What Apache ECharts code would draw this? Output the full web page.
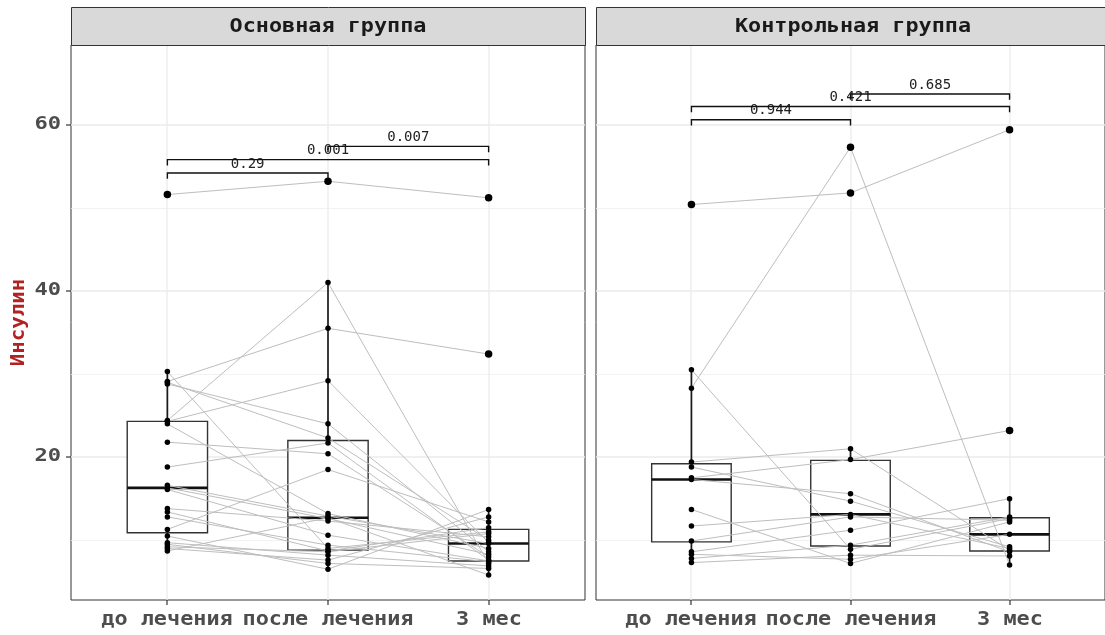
<!DOCTYPE html>
<html>
<head>
<meta charset="utf-8">
<script src="https://cdn.jsdelivr.net/npm/echarts@6/dist/echarts.min.js"></script>
<style>
  html, body { margin: 0; padding: 0; background: #ffffff; }
  #chart { width: 1105px; height: 635px; }
</style>
</head>
<body>
<div id="chart"></div>
<script>
// ---- data ----
const categories = ['до лечения', 'после лечения', '3 мес'];
const panelTitles = ['Основная группа', 'Контрольная группа'];
const yTitle = 'Инсулин';
const yTicks = [20, 40, 60];
const yMinorGrid = [10, 30, 50];
const yRange = [2.8, 69.6];

// main group, one entry per patient at each time point
const mainBefore = [51.6, 29.1, 24.4, 24.3, 30.3, 28.8, 29.0, 21.8, 24.0, 18.8, 11.3, 16.6, 16.3, 16.1, 13.8, 13.4, 12.8, 10.5, 9.0, 9.7, 9.5, 9.2, 8.7];
const mainAfter  = [53.2, 35.5, 41.0, 29.2, 9.0, 24.0, 22.3, 20.4, 13.2, 21.7, 18.5, 12.9, 12.6, 10.6, 12.3, 8.7, 9.4, 6.5, 7.6, 8.2, 7.2, 8.6, 12.7];
const main3m     = [51.2, 32.4, 7.2, 9.7, 11.0, 8.6, 10.0, 8.0, 9.0, 7.6, 12.2, 9.6, 8.3, 7.5, 10.4, 11.5, 7.4, 13.7, 12.8, 6.9, 6.6, 10.8, 5.8];

// control group, one entry per patient at each time point
const ctrlBefore = [50.4, 30.5, 28.3, 19.4, 17.5, 18.8, 17.3, 13.7, 11.7, 9.9, 8.6, 8.3, 7.8, 7.3];
const ctrlAfter  = [51.8, 8.9, 57.3, 21.0, 19.7, 14.7, 15.6, 7.2, 13.1, 12.8, 11.2, 7.7, 9.4, 8.2];
const ctrl3m     = [59.4, 12.6, 7.0, 8.8, 23.2, 9.2, 8.6, 12.2, 9.0, 12.4, 15.0, 10.7, 12.8, 8.1];

// box statistics per time point: [lower whisker, Q1, median, Q3, upper whisker]
const mainBox = [[8.7, 10.9, 16.3, 24.3, 30.3], [6.5, 8.8, 12.7, 22.0, 41.0], [5.8, 7.5, 9.6, 11.3, 13.7]];
const ctrlBox = [[7.3, 9.8, 17.3, 19.2, 30.5], [7.2, 9.3, 13.1, 19.6, 21.0], [7.0, 8.7, 10.7, 12.7, 15.0]];

// pairwise comparisons: bracket height and p-value
const sigPairs = [[0, 1], [0, 2], [1, 2]];
const mainSigY = [54.2, 55.8, 57.4];
const mainSigP = ['0.29', '0.001', '0.007'];
const ctrlSigY = [60.6, 62.2, 63.7];
const ctrlSigP = ['0.944', '0.421', '0.685'];
const sigTip = 0.7;

// ---- layout & styles ----
const panels = [
  { title: panelTitles[0], values: [mainBefore, mainAfter, main3m], box: mainBox, sigY: mainSigY, sigP: mainSigP },
  { title: panelTitles[1], values: [ctrlBefore, ctrlAfter, ctrl3m], box: ctrlBox, sigY: ctrlSigY, sigP: ctrlSigP }
];
const panelLeft = [71, 596];
const panelTop = 45, panelW = 514, panelH = 555;
const stripTop = 7, stripH = 38;
const MONO = '"DejaVu Sans Mono", monospace';
const AXIS_TEXT = '#4D4D4D';
const DARK = '#333333';

function txt(style) {
  // zrender text alignment names plus the legacy aliases
  style.align = style.textAlign;
  style.verticalAlign = style.textVerticalAlign;
  return style;
}

const grids = [], xAxes = [], yAxes = [], series = [], graphics = [];

panels.forEach((p, gi) => {
  grids.push({ left: panelLeft[gi], top: panelTop, width: panelW, height: panelH,
    show: true, borderColor: DARK, borderWidth: 1, backgroundColor: '#ffffff' });
  xAxes.push({ type: 'value', gridIndex: gi, min: -0.6, max: 2.6,
    axisLine: { show: false }, axisTick: { show: false }, axisLabel: { show: false }, splitLine: { show: false } });
  yAxes.push({ type: 'value', gridIndex: gi, min: yRange[0], max: yRange[1],
    axisLine: { show: false }, axisTick: { show: false }, axisLabel: { show: false }, splitLine: { show: false } });

  // grid lines, axis ticks and category labels
  series.push({
    type: 'custom', xAxisIndex: gi, yAxisIndex: gi, z: 1, silent: true, clip: false,
    data: [0],
    renderItem: function (params, api) {
      const cs = params.coordSys;
      const left = cs.x, right = cs.x + cs.width, top = cs.y, bottom = cs.y + cs.height;
      const ch = [];
      yMinorGrid.forEach(v => {
        const y = Math.round(api.coord([0, v])[1]) + 0.5;
        ch.push({ type: 'line', shape: { x1: left, y1: y, x2: right, y2: y }, style: { stroke: '#EFEFEF', lineWidth: 0.8 } });
      });
      yTicks.forEach(v => {
        const y = Math.round(api.coord([0, v])[1]);
        ch.push({ type: 'line', shape: { x1: left, y1: y, x2: right, y2: y }, style: { stroke: '#EBEBEB', lineWidth: 1.3 } });
        if (gi === 0) {
          ch.push({ type: 'line', shape: { x1: left - 5, y1: y, x2: left, y2: y }, style: { stroke: DARK, lineWidth: 1.2 } });
          ch.push({ type: 'text', x: left - 10, y: y, scaleX: 1.3,
            style: txt({ text: String(v), fill: AXIS_TEXT, font: 'bold 17px ' + MONO, textAlign: 'right', textVerticalAlign: 'middle' }) });
        }
      });
      categories.forEach((c, i) => {
        const x = Math.round(api.coord([i, 0])[0]);
        ch.push({ type: 'line', shape: { x1: x, y1: top, x2: x, y2: bottom }, style: { stroke: '#EBEBEB', lineWidth: 1.3 } });
        ch.push({ type: 'line', shape: { x1: x, y1: bottom, x2: x, y2: bottom + 5 }, style: { stroke: DARK, lineWidth: 1.2 } });
        ch.push({ type: 'text', x: x, y: bottom + 20, scaleX: 1.15,
          style: txt({ text: c, fill: AXIS_TEXT, font: 'bold 19px ' + MONO, textAlign: 'center', textVerticalAlign: 'middle' }) });
      });
      return { type: 'group', children: ch };
    }
  });

  // boxplots
  series.push({
    type: 'custom', xAxisIndex: gi, yAxisIndex: gi, z: 2, silent: true,
    data: p.box.map((b, i) => [i].concat(b)),
    renderItem: function (params, api) {
      const i = api.value(0);
      const lw = api.value(1), q1 = api.value(2), med = api.value(3), q3 = api.value(4), uw = api.value(5);
      const xl = api.coord([i - 0.25, q3])[0], xr = api.coord([i + 0.25, q3])[0];
      const xc = api.coord([i, q3])[0];
      const yq3 = api.coord([i, q3])[1], yq1 = api.coord([i, q1])[1];
      const ym = api.coord([i, med])[1], yu = api.coord([i, uw])[1], yl = api.coord([i, lw])[1];
      return { type: 'group', children: [
        { type: 'line', shape: { x1: xc, y1: yq3, x2: xc, y2: yu }, style: { stroke: '#1A1A1A', lineWidth: 1.7 } },
        { type: 'line', shape: { x1: xc, y1: yq1, x2: xc, y2: yl }, style: { stroke: '#1A1A1A', lineWidth: 1.7 } },
        { type: 'rect', shape: { x: xl, y: yq3, width: xr - xl, height: yq1 - yq3 },
          style: { fill: '#ffffff', stroke: DARK, lineWidth: 1.4 } },
        { type: 'line', shape: { x1: xl, y1: ym, x2: xr, y2: ym }, style: { stroke: '#111111', lineWidth: 2.6 } }
      ] };
    }
  });

  // paired lines, one per patient
  const n = p.values[0].length;
  for (let k = 0; k < n; k++) {
    series.push({
      type: 'line', xAxisIndex: gi, yAxisIndex: gi, z: 3, silent: true,
      showSymbol: false, symbol: 'none',
      lineStyle: { color: '#BEBEBE', width: 1, opacity: 1 },
      data: p.values.map((arr, i) => [i, arr[k]])
    });
  }

  // points; values beyond the whiskers are drawn larger
  const pts = [], outl = [];
  p.values.forEach((arr, i) => {
    const b = p.box[i];
    arr.forEach(v => {
      if (v > b[4] || v < b[0]) outl.push([i, v]); else pts.push([i, v]);
    });
  });
  series.push({ type: 'scatter', xAxisIndex: gi, yAxisIndex: gi, z: 4, silent: true,
    symbolSize: 5.5, itemStyle: { color: '#000000', opacity: 1 }, data: pts });
  series.push({ type: 'scatter', xAxisIndex: gi, yAxisIndex: gi, z: 4, silent: true,
    symbolSize: 7.5, itemStyle: { color: '#000000', opacity: 1 }, data: outl });

  // significance brackets
  series.push({
    type: 'custom', xAxisIndex: gi, yAxisIndex: gi, z: 5, silent: true, clip: false,
    data: sigPairs.map((pr, k) => [pr[0], pr[1], p.sigY[k], k]),
    renderItem: function (params, api) {
      const a = api.value(0), b = api.value(1), y = api.value(2), k = api.value(3);
      const p1 = api.coord([a, y - sigTip]), p2 = api.coord([a, y]);
      const p3 = api.coord([b, y]), p4 = api.coord([b, y - sigTip]);
      const mid = api.coord([(a + b) / 2, y]);
      return { type: 'group', children: [
        { type: 'polyline', shape: { points: [p1, p2, p3, p4] },
          style: { stroke: '#111111', lineWidth: 1.4, fill: null } },
        { type: 'text', x: mid[0], y: mid[1] - 9,
          style: txt({ text: p.sigP[k], fill: '#222222', font: '14px ' + MONO, textAlign: 'center', textVerticalAlign: 'middle' }) }
      ] };
    }
  });

  // facet strip
  const cx = panelLeft[gi] + panelW / 2;
  graphics.push({ type: 'rect', left: panelLeft[gi], top: stripTop, z: 10,
    shape: { x: 0, y: 0, width: panelW, height: stripH },
    style: { fill: '#D9D9D9', stroke: DARK, lineWidth: 1 } });
  graphics.push({ type: 'text', x: cx, y: stripTop + stripH / 2 + 1, scaleX: 1.09, z: 11,
    style: txt({ text: p.title, fill: '#1A1A1A', font: 'bold 20px ' + MONO, textAlign: 'center', textVerticalAlign: 'middle' }) });
});

// y-axis title
graphics.push({ type: 'text', x: 19, y: panelTop + panelH / 2, rotation: Math.PI / 2, scaleX: 1.09, z: 11,
  style: txt({ text: yTitle, fill: '#B22222', font: 'bold 19px ' + MONO, textAlign: 'center', textVerticalAlign: 'middle' }) });

const chart = echarts.init(document.getElementById('chart'), null, { renderer: 'canvas' });
chart.setOption({
  animation: false,
  backgroundColor: '#ffffff',
  grid: grids,
  xAxis: xAxes,
  yAxis: yAxes,
  series: series,
  graphic: graphics
});
</script>
</body>
</html>
